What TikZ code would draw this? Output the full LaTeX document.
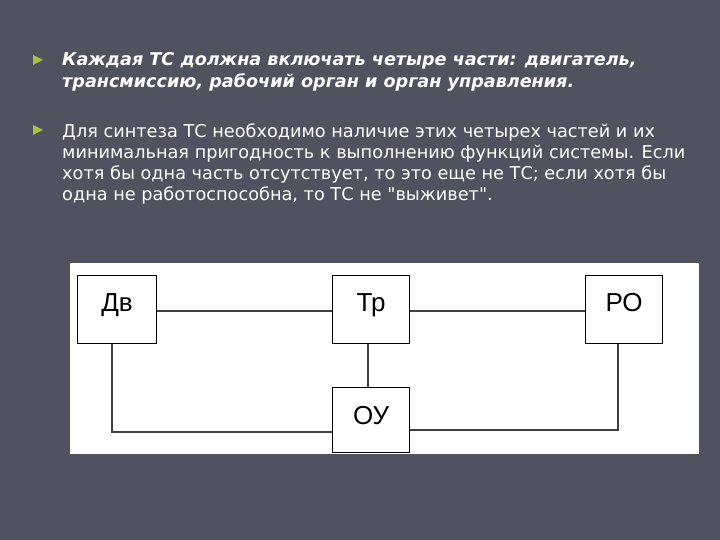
\documentclass[tikz,border=0pt]{standalone}
\usepackage{fontspec}
\setmainfont{DejaVu Sans}[Ligatures=TeXReset]
\newfontfamily\diag{Liberation Sans}
\definecolor{bg}{HTML}{50535F}
\definecolor{bul}{HTML}{A8C43C}
\begin{document}
\begin{tikzpicture}[x=1pt,y=-1pt,
  txt/.style={anchor=base west,inner sep=0pt,text=white},
  blk/.style={draw=black,line width=1.2pt,fill=white,inner sep=0pt,anchor=north west,font=\diag\fontsize{26}{26}\selectfont},
  lnk/.style={draw=black!75,line width=1.3pt}]
\fill[bg] (0,0) rectangle (720,540);
\useasboundingbox (0,0) rectangle (720,540);
% bullets
\fill[bul] (33,55) -- (43,60) -- (33,65) -- cycle;
\fill[bul] (33,125) -- (43,130) -- (33,135) -- cycle;
\node[txt,font=\bfseries\itshape\fontsize{17.6}{18}\selectfont] (t1) at (62,66) {Каждая ТС должна включать четыре части: двигатель,};
\node[txt,font=\bfseries\itshape\fontsize{17.6}{18}\selectfont] (t2) at (62,88) {трансмиссию, рабочий орган и орган управления.};
\node[txt,font=\fontsize{17.7}{18}\selectfont] (p1) at (62,138) {Для синтеза ТС необходимо наличие этих четырех частей и их};
\node[txt,font=\fontsize{17.7}{18}\selectfont] (p2) at (62,159) {минимальная пригодность к выполнению функций системы. Если};
\node[txt,font=\fontsize{17.7}{18}\selectfont] (p3) at (62,180) {хотя бы одна часть отсутствует, то это еще не ТС; если хотя бы};
\node[txt,font=\fontsize{17.7}{18}\selectfont] (p4) at (62,201) {одна не работоспособна, то ТС не "выживет".};
% diagram
\fill[white] (70,263) rectangle (699,454);
\node[blk,minimum width=79,minimum height=68] (dv) at (77,275) {\raisebox{14pt}{Дв}};
\node[blk,minimum width=77,minimum height=68] (tr) at (332,275) {\raisebox{14pt}{Тр}};
\node[blk,minimum width=77,minimum height=68] (ro) at (585,275) {\raisebox{14pt}{РО}};
\node[blk,minimum width=77,minimum height=65] (ou) at (332,387) {\raisebox{10pt}{ОУ}};
\draw[lnk] (dv.east |- 0,311) -- (tr.west |- 0,311);
\draw[lnk] (tr.east |- 0,311) -- (ro.west |- 0,311);
\draw[lnk] (tr.south -| 368,0) -- (ou.north -| 368,0);
\draw[lnk] (dv.south -| 112,0) -- (112,432) -- (ou.west |- 0,432);
\draw[lnk] (ro.south -| 618,0) -- (618,430) -- (ou.east |- 0,430);
\end{tikzpicture}
\end{document}
